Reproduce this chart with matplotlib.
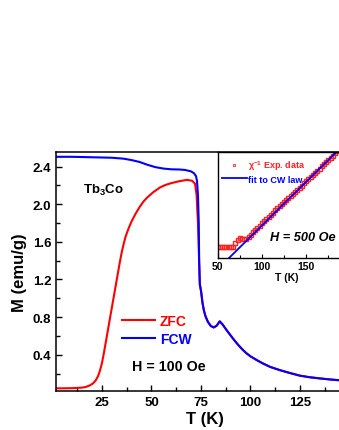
import matplotlib
matplotlib.use("Agg")
import matplotlib.pyplot as plt
from matplotlib.lines import Line2D
from matplotlib.ticker import MultipleLocator

plt.rcParams['font.family'] = ['Liberation Sans', 'DejaVu Sans']
plt.rcParams['font.weight'] = 'bold'
plt.rcParams['mathtext.fontset'] = 'custom'
plt.rcParams['mathtext.rm'] = 'Liberation Sans:bold'
plt.rcParams['mathtext.bf'] = 'Liberation Sans:bold'
plt.rcParams['mathtext.default'] = 'rm'

# FCW curve (T in K, M in emu/g)
fcw_T = [2, 10, 20, 30, 36, 40, 44, 48, 52, 56, 60, 64, 67, 70, 71.5, 72.5,
         73.0, 73.5, 73.9, 74.1, 74.4, 75.1, 75.8, 76.5, 77.3, 78.5, 80.0,
         81.5, 83.0, 84.5, 86.0, 88.0, 90.0, 92.0, 94.0, 96.0, 98.0, 100.0,
         103.0, 106.0, 110.0, 115.0, 120.0, 125.0, 130.0, 135.0, 140.0,
         145.0, 150.0, 153.0]
fcw_M = [2.505, 2.505, 2.50, 2.495, 2.485, 2.47, 2.45, 2.42, 2.395, 2.38,
         2.372, 2.37, 2.365, 2.35, 2.33, 2.30, 2.25, 2.10, 1.80, 1.40, 1.15,
         1.07, 0.95, 0.87, 0.81, 0.75, 0.705, 0.69, 0.71, 0.755, 0.72, 0.66,
         0.605, 0.55, 0.50, 0.455, 0.415, 0.383, 0.345, 0.31, 0.27, 0.235,
         0.205, 0.177, 0.16, 0.148, 0.137, 0.128, 0.12, 0.116]

# ZFC curve below the transition; above 75 K it follows FCW
zfc_T_low = [2, 10, 15, 17, 19, 20.5, 21.8, 23, 24, 25, 26, 27, 28, 29, 30,
             31, 32, 33, 34, 35, 36, 37, 38.4, 40, 42, 44, 46, 48, 51, 54.4,
             57, 60, 64, 68, 70.5, 72, 72.8, 73.5, 74.0, 74.5]
zfc_M_low = [0.042, 0.044, 0.05, 0.058, 0.075, 0.095, 0.125, 0.17, 0.23,
             0.31, 0.42, 0.54, 0.66, 0.78, 0.90, 1.02, 1.14, 1.26, 1.38,
             1.49, 1.58, 1.66, 1.74, 1.82, 1.90, 1.97, 2.03, 2.075, 2.13,
             2.18, 2.205, 2.225, 2.245, 2.26, 2.25, 2.22, 2.10, 1.80, 1.45,
             1.15]

# inset: inverse susceptibility (arb. units) and Curie-Weiss fit
chi_T = [50, 52.5, 55, 57.5, 60, 62.5, 65, 67.5, 70, 72.5, 75, 77.5, 80,
         82.5, 85, 87.5, 90, 92.5, 95, 97.5, 100, 102.5, 105, 107.5, 110,
         112.5, 115, 117.5, 120, 122.5, 125, 127.5, 130, 132.5, 135, 137.5,
         140, 142.5, 145, 147.5, 150, 152.5, 155, 157.5, 160, 162.5, 165,
         167.5, 170, 172.5, 175, 177.5, 180, 182.5, 185, 187.5]
chi_inv = [101, 100, 100, 101, 101, 101, 102, 108, 140, 172, 186, 184, 176,
           178, 198, 220, 242, 264, 285, 306, 327, 348, 368, 389, 409, 429,
           449, 469, 489, 509, 528, 548, 567, 587, 606, 625, 645, 664, 684,
           704, 723, 743, 763, 783, 803, 823, 844, 864, 885, 905, 926, 946,
           967, 988, 1008, 1029]
fit_T = [62.8, 205]
fit_chi = [0, 1173]

zfc_T = zfc_T_low + [t for t in fcw_T if t >= 75]
zfc_M = zfc_M_low + [m for t, m in zip(fcw_T, fcw_M) if t >= 75]

fig = plt.figure(figsize=(3.39, 4.31), dpi=100)
ax = fig.add_axes([0.1652, 0.0905, 0.879, 0.5545])

ax.plot(zfc_T, zfc_M, color='#ff0000', lw=1.5)
ax.plot(fcw_T, fcw_M, color='#0000ff', lw=1.5)
ax.set_xlim(1.8, 152.3)
ax.set_ylim(0.014, 2.556)
ax.xaxis.set_major_locator(MultipleLocator(25))
ax.xaxis.set_minor_locator(MultipleLocator(12.5))
ax.yaxis.set_major_locator(MultipleLocator(0.4))
ax.yaxis.set_minor_locator(MultipleLocator(0.2))
ax.set_yticks([0.4, 0.8, 1.2, 1.6, 2.0, 2.4])
ax.set_xticks([25, 50, 75, 100, 125, 150])
ax.tick_params(which='both', direction='in', width=1.0, labelsize=9.5)
ax.tick_params(which='major', length=4)
ax.tick_params(which='minor', length=3)
for s in ax.spines.values():
    s.set_linewidth(1.1)
ax.set_xlabel('T (K)', fontsize=12, fontweight='bold', labelpad=2)
ax.set_ylabel('M (emu/g)', fontsize=12, fontweight='bold', labelpad=4)

ax.text(15.4, 2.155, 'Tb$_3$Co', fontsize=9.5, ha='left', va='center')
ax.text(40, 0.283, 'H = 100 Oe', fontsize=10.3, ha='left', va='center')

handles = [Line2D([], [], color='#ff0000', lw=1.5),
           Line2D([], [], color='#0000ff', lw=1.5)]
ax.legend(handles, ['ZFC', 'FCW'], loc='upper left',
          bbox_to_anchor=(0.2205, 0.3234), frameon=False, borderpad=0,
          borderaxespad=0, handlelength=2.4, handletextpad=0.36,
          labelspacing=0.3, labelcolor='linecolor',
          prop={'size': 10, 'weight': 'bold'})

# inset
axi = fig.add_axes([0.642, 0.399, 0.405, 0.246])
axi.plot(chi_T, chi_inv, ls='none', marker='s', ms=2.4, mfc='none',
         mec='#ff2020', mew=1.0)
axi.plot(fit_T, fit_chi, color='#0000ff', lw=1.3)
axi.set_xlim(50, 205)
axi.set_ylim(0, 1000)
axi.set_yticks([])
axi.xaxis.set_major_locator(MultipleLocator(50))
axi.xaxis.set_minor_locator(MultipleLocator(25))
axi.tick_params(which='both', direction='in', width=0.8, labelsize=7.5, pad=2)
axi.tick_params(which='major', length=3)
axi.tick_params(which='minor', length=2)
for s in axi.spines.values():
    s.set_linewidth(1.0)
axi.set_xlabel('T (K)', fontsize=7.5, fontweight='bold', labelpad=1)
axi.text(108.7, 195, 'H = 500 Oe', fontsize=9.2, style='italic',
         ha='left', va='center')

ihandles = [Line2D([], [], ls='none', marker='s', ms=2.0, mfc='none',
                   mec='#ff2020', mew=0.6),
            Line2D([], [], color='#0000ff', lw=1.3)]
axi.legend(ihandles, ['\u03c7$^{-1}$ Exp. data', 'fit to CW law'],
           loc='upper left', bbox_to_anchor=(0.029, 0.9415), frameon=False,
           borderpad=0, borderaxespad=0, handlelength=2.77,
           handletextpad=0.2, labelspacing=0.3,
           labelcolor=['#ff2020', '#0000ff'],
           prop={'size': 6.5, 'weight': 'bold'})

fig.savefig('out.png', dpi=100)
